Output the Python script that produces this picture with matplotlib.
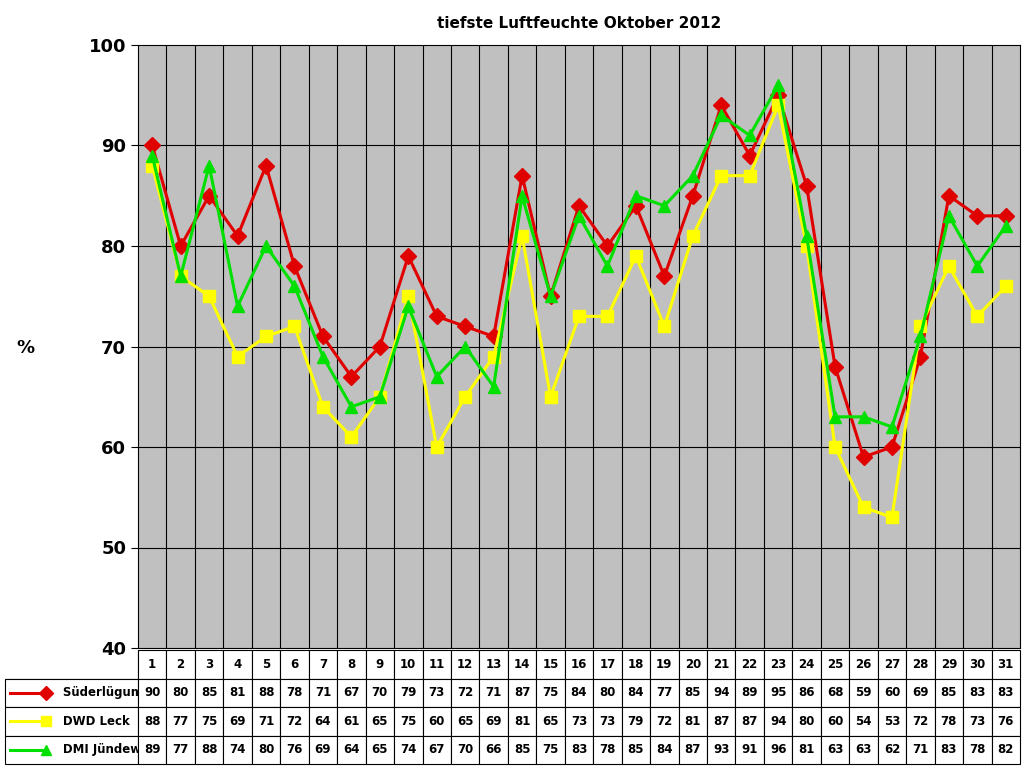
import matplotlib
matplotlib.use("Agg")
import matplotlib.pyplot as plt
from matplotlib.lines import Line2D

days = list(range(1, 32))
suederluegum = [90, 80, 85, 81, 88, 78, 71, 67, 70, 79, 73, 72, 71, 87, 75, 84,
                80, 84, 77, 85, 94, 89, 95, 86, 68, 59, 60, 69, 85, 83, 83]
dwd_leck = [88, 77, 75, 69, 71, 72, 64, 61, 65, 75, 60, 65, 69, 81, 65, 73,
            73, 79, 72, 81, 87, 87, 94, 80, 60, 54, 53, 72, 78, 73, 76]
dmi_juendewatt = [89, 77, 88, 74, 80, 76, 69, 64, 65, 74, 67, 70, 66, 85, 75, 83,
                  78, 85, 84, 87, 93, 91, 96, 81, 63, 63, 62, 71, 83, 78, 82]

series = [
    ("Süderlügum", suederluegum, "#E00000", "D"),
    ("DWD Leck", dwd_leck, "#FFFF00", "s"),
    ("DMI Jündewatt", dmi_juendewatt, "#00E000", "^"),
]

fig = plt.figure(figsize=(10.24, 7.68), dpi=100)
ax = fig.add_axes([138 / 1024, 1 - 648 / 768, 882 / 1024, 603 / 768])
ax.set_facecolor("#C0C0C0")
ax.set_xlim(0.5, 31.5)
ax.set_ylim(40, 100)
ax.set_yticks(range(40, 101, 10))
ax.tick_params(axis="y", labelsize=13, direction="out", length=5)
for lbl in ax.get_yticklabels():
    lbl.set_fontweight("bold")
ax.set_xticks([])
for v in range(50, 100, 10):
    ax.axhline(v, color="black", lw=0.8)
for d in range(1, 31):
    ax.axvline(d + 0.5, color="black", lw=0.8)
for _, vals, col, mk in series:
    ax.plot(days, vals, color=col, marker=mk, markersize=8, lw=2.2)
for s in ax.spines.values():
    s.set_color("black")

ax.set_title("tiefste Luftfeuchte Oktober 2012", fontsize=11, fontweight="bold", pad=12)
fig.text(16 / 1024, 1 - 348 / 768, "%", fontsize=13, fontweight="bold", va="center")

# data table under the chart
tab = fig.add_axes([5 / 1024, 1 - 764 / 768, 1015 / 1024, 114 / 768])
tab.axis("off")
cell_text = [[""] + [str(d) for d in days]]
for name, vals, _, _ in series:
    cell_text.append([name] + [str(v) for v in vals])
t = tab.table(cellText=cell_text, bbox=[0, 0, 1, 1], cellLoc="center",
              colWidths=[133 / 1015] + [882 / 1015 / 31] * 31)
t.auto_set_font_size(False)
for (r, c), cell in t.get_celld().items():
    cell.set_fontsize(8.5)
    cell.get_text().set_fontweight("bold")
    cell.set_linewidth(0.8)
    if c == 0:
        cell.get_text().set_ha("left")
        cell.PAD = 0.22
    if r == 0 and c == 0:
        cell.visible_edges = "BR"
# legend markers in row labels
for i, (name, vals, col, mk) in enumerate(series):
    yc = 1 - (i + 1.5) / 4
    tab.add_line(Line2D([0.005, 0.04], [yc, yc], color=col, lw=2.2,
                        marker=mk, markersize=7, markevery=[1],
                        transform=tab.transAxes))
    tab.texts  # keep
for (r, c), cell in t.get_celld().items():
    if c == 0 and r > 0:
        cell.get_text().set_text("       " + cell.get_text().get_text())

fig.savefig("out.png", dpi=100)
